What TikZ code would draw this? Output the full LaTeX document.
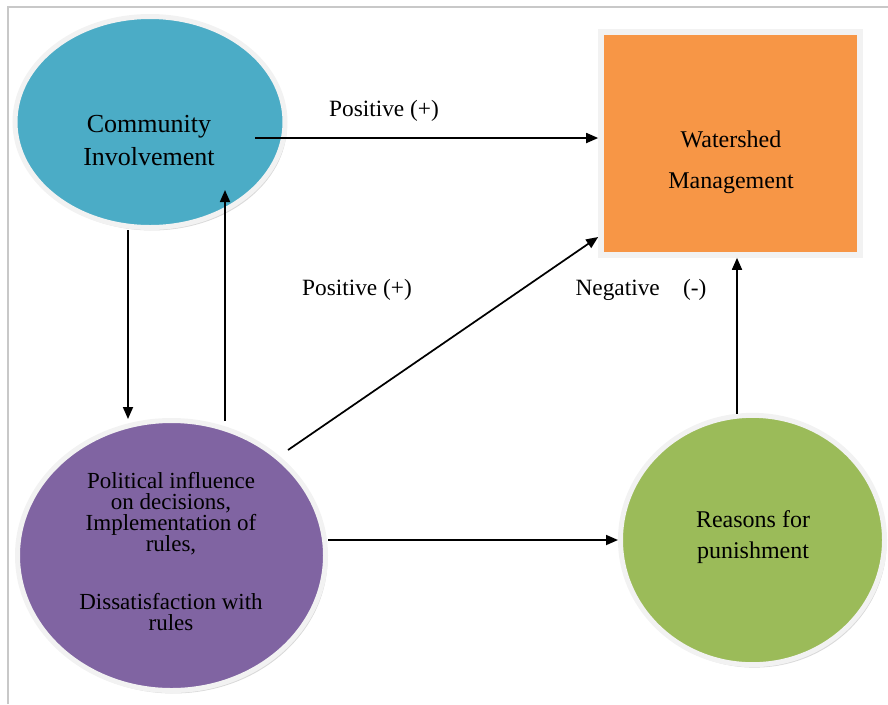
\documentclass[tikz,border=0pt]{standalone}
\usepackage{fontspec}
\setmainfont{Liberation Serif}
\usepackage{tikz}
\usetikzlibrary{arrows.meta}
\usetikzlibrary{shapes.geometric}
\usetikzlibrary{shadows}
\usetikzlibrary{positioning}
\definecolor{commblue}{HTML}{4BACC6}
\definecolor{wsorange}{HTML}{F79646}
\definecolor{polpurple}{HTML}{8064A2}
\definecolor{reasgreen}{HTML}{9BBB59}
\definecolor{ringgrey}{HTML}{F2F2F2}
\definecolor{framegrey}{HTML}{C8C8C8}
\tikzstyle{blob}=[ellipse,draw=ringgrey,line width=3.75pt,drop shadow={shadow xshift=1.5pt,shadow yshift=-2.2pt,opacity=0.3}]
\tikzstyle{txt}=[align=center,inner sep=0pt]

\begin{document}
\begin{tikzpicture}[x=0.75pt,y=-0.75pt]
\tikzstyle{arr}=[line width=1.3pt,-{Triangle[length=9pt,width=7.5pt]}]
\tikzstyle{lbl}=[anchor=base,inner sep=0pt,font=\fontsize{17.5}{21}\selectfont]
\useasboundingbox (0,0) rectangle (888,704);
% frame
\draw[framegrey,line width=1.5pt] (8,704) |- (888,7);

% shapes
\node [blob,fill=commblue,minimum width=202.5pt,minimum height=158.25pt] (ci) at (150,122) {};
\node [rectangle,draw=ringgrey,line width=4.5pt,fill=wsorange,minimum width=194pt,minimum height=167pt,
       drop shadow={shadow xshift=1.5pt,shadow yshift=-2.2pt,opacity=0.3}] (wm) at (730.5,143.5) {};
\node [blob,fill=polpurple,minimum width=231pt,minimum height=202.5pt] (pi) at (171.5,555.5) {};
\node [blob,fill=reasgreen,minimum width=198pt,minimum height=187pt] (rp) at (752.5,540) {};

% texts
\node [txt,font=\fontsize{19.5}{24.75}\selectfont] (ci-t) at (149,140.5) {Community\\Involvement};
\node [txt,font=\fontsize{18}{30.75}\selectfont] (wm-t) at (731,162) {Watershed\\Management};
\node [txt,font=\fontsize{17.25}{15.75}\selectfont] (pi-t) at (171,551.5)
      {Political influence\\on decisions,\\Implementation of\\rules,\\[27.75pt]Dissatisfaction with\\rules};
\node [txt,font=\fontsize{18}{23.25}\selectfont] (rp-t) at (753,537) {Reasons for\\punishment};

\node [lbl] (pos1) at (384,116) {Positive (+)};
\node [lbl] (pos2) at (357,295) {Positive (+)};
\node [lbl] (neg) at (641,295) {Negative\quad(-)};

% arrows
\coordinate (c1) at ([shift={(105,16)}]ci.center);
\draw[arr] (c1) -- (wm.west |- c1);
\draw[arr] ([shift={(-22,0)}]ci.south) -- ([shift={(-43.5,1)}]pi.north);
\draw[arr] ([shift={(53.5,3)}]pi.north) -- ([shift={(75,68)}]ci.center);
\draw[arr] ([shift={(116.5,-105.5)}]pi.center) -- ([shift={(0,93.5)}]wm.west);
\draw[arr] ([shift={(0,-15.5)}]pi.east) -- (rp.west);
\coordinate (r1) at ([shift={(-15.5,1)}]rp.north);
\draw[arr] (r1) -- (r1 |- wm.south);
\end{tikzpicture}
\end{document}
